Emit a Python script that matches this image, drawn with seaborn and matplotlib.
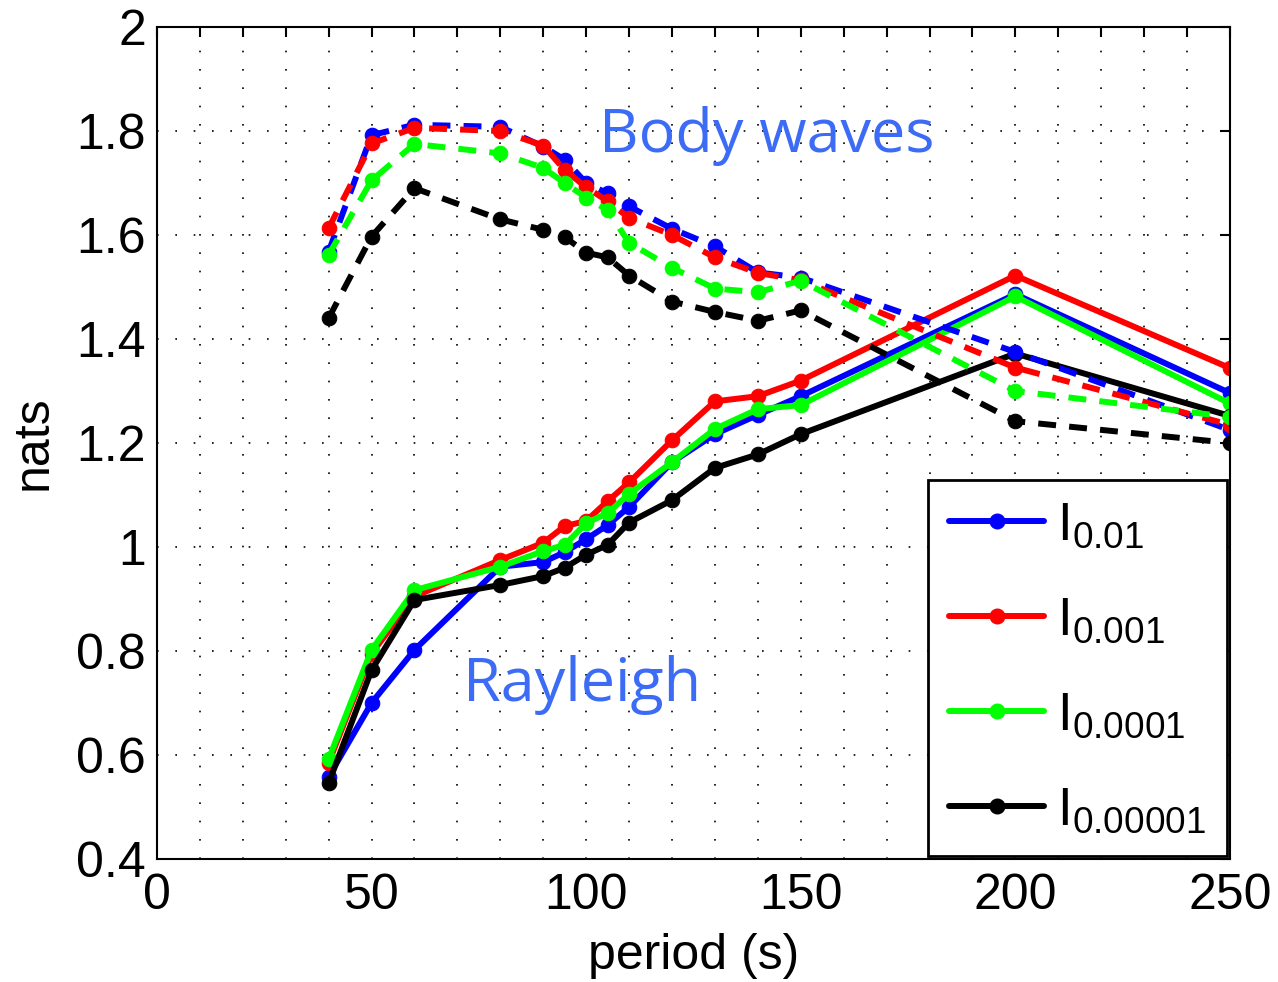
import matplotlib
matplotlib.use("Agg")
import matplotlib.pyplot as plt
import seaborn as sns
import pandas as pd
from matplotlib.lines import Line2D

# Periods (s)
periods = [40, 50, 60, 80, 90, 95, 100, 105, 110, 120, 130, 140, 150, 200, 250]

# Information (nats) for body waves, per threshold
body_001 = [1.568, 1.792, 1.812, 1.808, 1.770, 1.745, 1.700, 1.680, 1.655, 1.612, 1.578, 1.528, 1.518, 1.375, 1.225]
body_0001 = [1.613, 1.776, 1.806, 1.800, 1.772, 1.725, 1.692, 1.665, 1.633, 1.600, 1.557, 1.527, 1.513, 1.345, 1.235]
body_00001 = [1.562, 1.705, 1.775, 1.757, 1.729, 1.700, 1.672, 1.648, 1.585, 1.537, 1.497, 1.490, 1.512, 1.300, 1.250]
body_000001 = [1.440, 1.597, 1.690, 1.630, 1.610, 1.596, 1.566, 1.557, 1.522, 1.472, 1.452, 1.435, 1.455, 1.242, 1.200]

# Information (nats) for Rayleigh waves, per threshold
ray_001 = [0.558, 0.700, 0.802, 0.962, 0.971, 0.990, 1.015, 1.042, 1.077, 1.163, 1.217, 1.254, 1.290, 1.486, 1.296]
ray_0001 = [0.585, 0.795, 0.905, 0.975, 1.008, 1.040, 1.050, 1.088, 1.124, 1.205, 1.280, 1.290, 1.320, 1.522, 1.344]
ray_00001 = [0.592, 0.802, 0.917, 0.962, 0.992, 1.004, 1.046, 1.065, 1.102, 1.163, 1.227, 1.265, 1.273, 1.482, 1.276]
ray_000001 = [0.546, 0.763, 0.898, 0.927, 0.944, 0.960, 0.985, 1.004, 1.047, 1.090, 1.152, 1.178, 1.217, 1.372, 1.252]

labels = [r"$\mathregular{I_{0.01}}$", r"$\mathregular{I_{0.001}}$",
          r"$\mathregular{I_{0.0001}}$", r"$\mathregular{I_{0.00001}}$"]
colors = ["#0000ff", "#ff0000", "#00ff00", "#000000"]

sns.set_theme(style="white")
plt.rcParams["font.family"] = ["Liberation Sans", "DejaVu Sans"]
plt.rcParams["mathtext.fontset"] = "custom"
plt.rcParams["mathtext.rm"] = "Liberation Sans"
plt.rcParams["text.color"] = "black"
plt.rcParams["axes.labelcolor"] = "black"
plt.rcParams["xtick.color"] = "black"
plt.rcParams["ytick.color"] = "black"

fig = plt.figure(figsize=(12.78, 9.82), dpi=100)
ax = fig.add_axes([0.1228, 0.1253, 0.8396, 0.8472])

lw = 4.3
ms = 10.5
dash = (3.0, 2.2)

ray_sets = [ray_001, ray_0001, ray_00001, ray_000001]
body_sets = [body_001, body_0001, body_00001, body_000001]

for vals, c in zip(ray_sets, colors):
    df = pd.DataFrame({"period": periods, "nats": vals})
    sns.lineplot(data=df, x="period", y="nats", ax=ax, color=c, linewidth=lw,
                 marker="o", markersize=ms, markeredgecolor=c, legend=False)

for vals, c in zip(body_sets, colors):
    df = pd.DataFrame({"period": periods, "nats": vals})
    sns.lineplot(data=df, x="period", y="nats", ax=ax, color=c, linewidth=lw,
                 marker="o", markersize=ms, markeredgecolor=c, legend=False)
    ax.lines[-1].set_dashes(dash)

ax.set_xlim(0, 250)
ax.set_ylim(0.4, 2.0)
ax.set_xticks([0, 50, 100, 150, 200, 250])
ax.set_xticks(range(0, 251, 10), minor=True)
ax.set_yticks([0.4, 0.6, 0.8, 1.0, 1.2, 1.4, 1.6, 1.8, 2.0])
ax.set_yticklabels(["0.4", "0.6", "0.8", "1", "1.2", "1.4", "1.6", "1.8", "2"])

grid_kw = dict(color="black", linestyle=(0, (1, 10)), linewidth=1.2)
ax.grid(which="major", axis="both", **grid_kw)
ax.grid(which="minor", axis="x", **grid_kw)
ax.set_axisbelow(True)

ax.tick_params(axis="both", which="both", direction="in", top=True, right=True,
               length=7, width=1.5, labelsize=36, color="black",
               labelcolor="black")
ax.tick_params(axis="y", pad=8)
ax.tick_params(axis="x", pad=10)
ax.tick_params(axis="y", which="minor", left=False, right=False)
for s in ax.spines.values():
    s.set_color("black")
    s.set_linewidth(1.5)

ax.set_xlabel("period (s)", fontsize=36, labelpad=10, color="black")
ax.set_ylabel("nats", fontsize=36, labelpad=14, color="black")

txt_color = "#3c6cf5"
ax.text(142.0, 1.79, "Body waves", color=txt_color, fontsize=44,
        family=["Open Sans", "DejaVu Sans"], ha="center", va="center")
ax.text(99.0, 0.735, "Rayleigh", color=txt_color, fontsize=44,
        family=["Open Sans", "DejaVu Sans"], ha="center", va="center")

handles = [Line2D([0], [0], color=c, linewidth=lw, marker="o", markersize=ms,
                  markeredgecolor=c) for c in colors]
leg = ax.legend(handles, labels, loc="lower right", fontsize=38,
                handlelength=1.8, borderaxespad=0.05, fancybox=False,
                framealpha=1, edgecolor="black", labelspacing=0.85,
                borderpad=0.4, handletextpad=0.25)
leg.get_frame().set_linewidth(2)

fig.savefig("out.png", dpi=100)
